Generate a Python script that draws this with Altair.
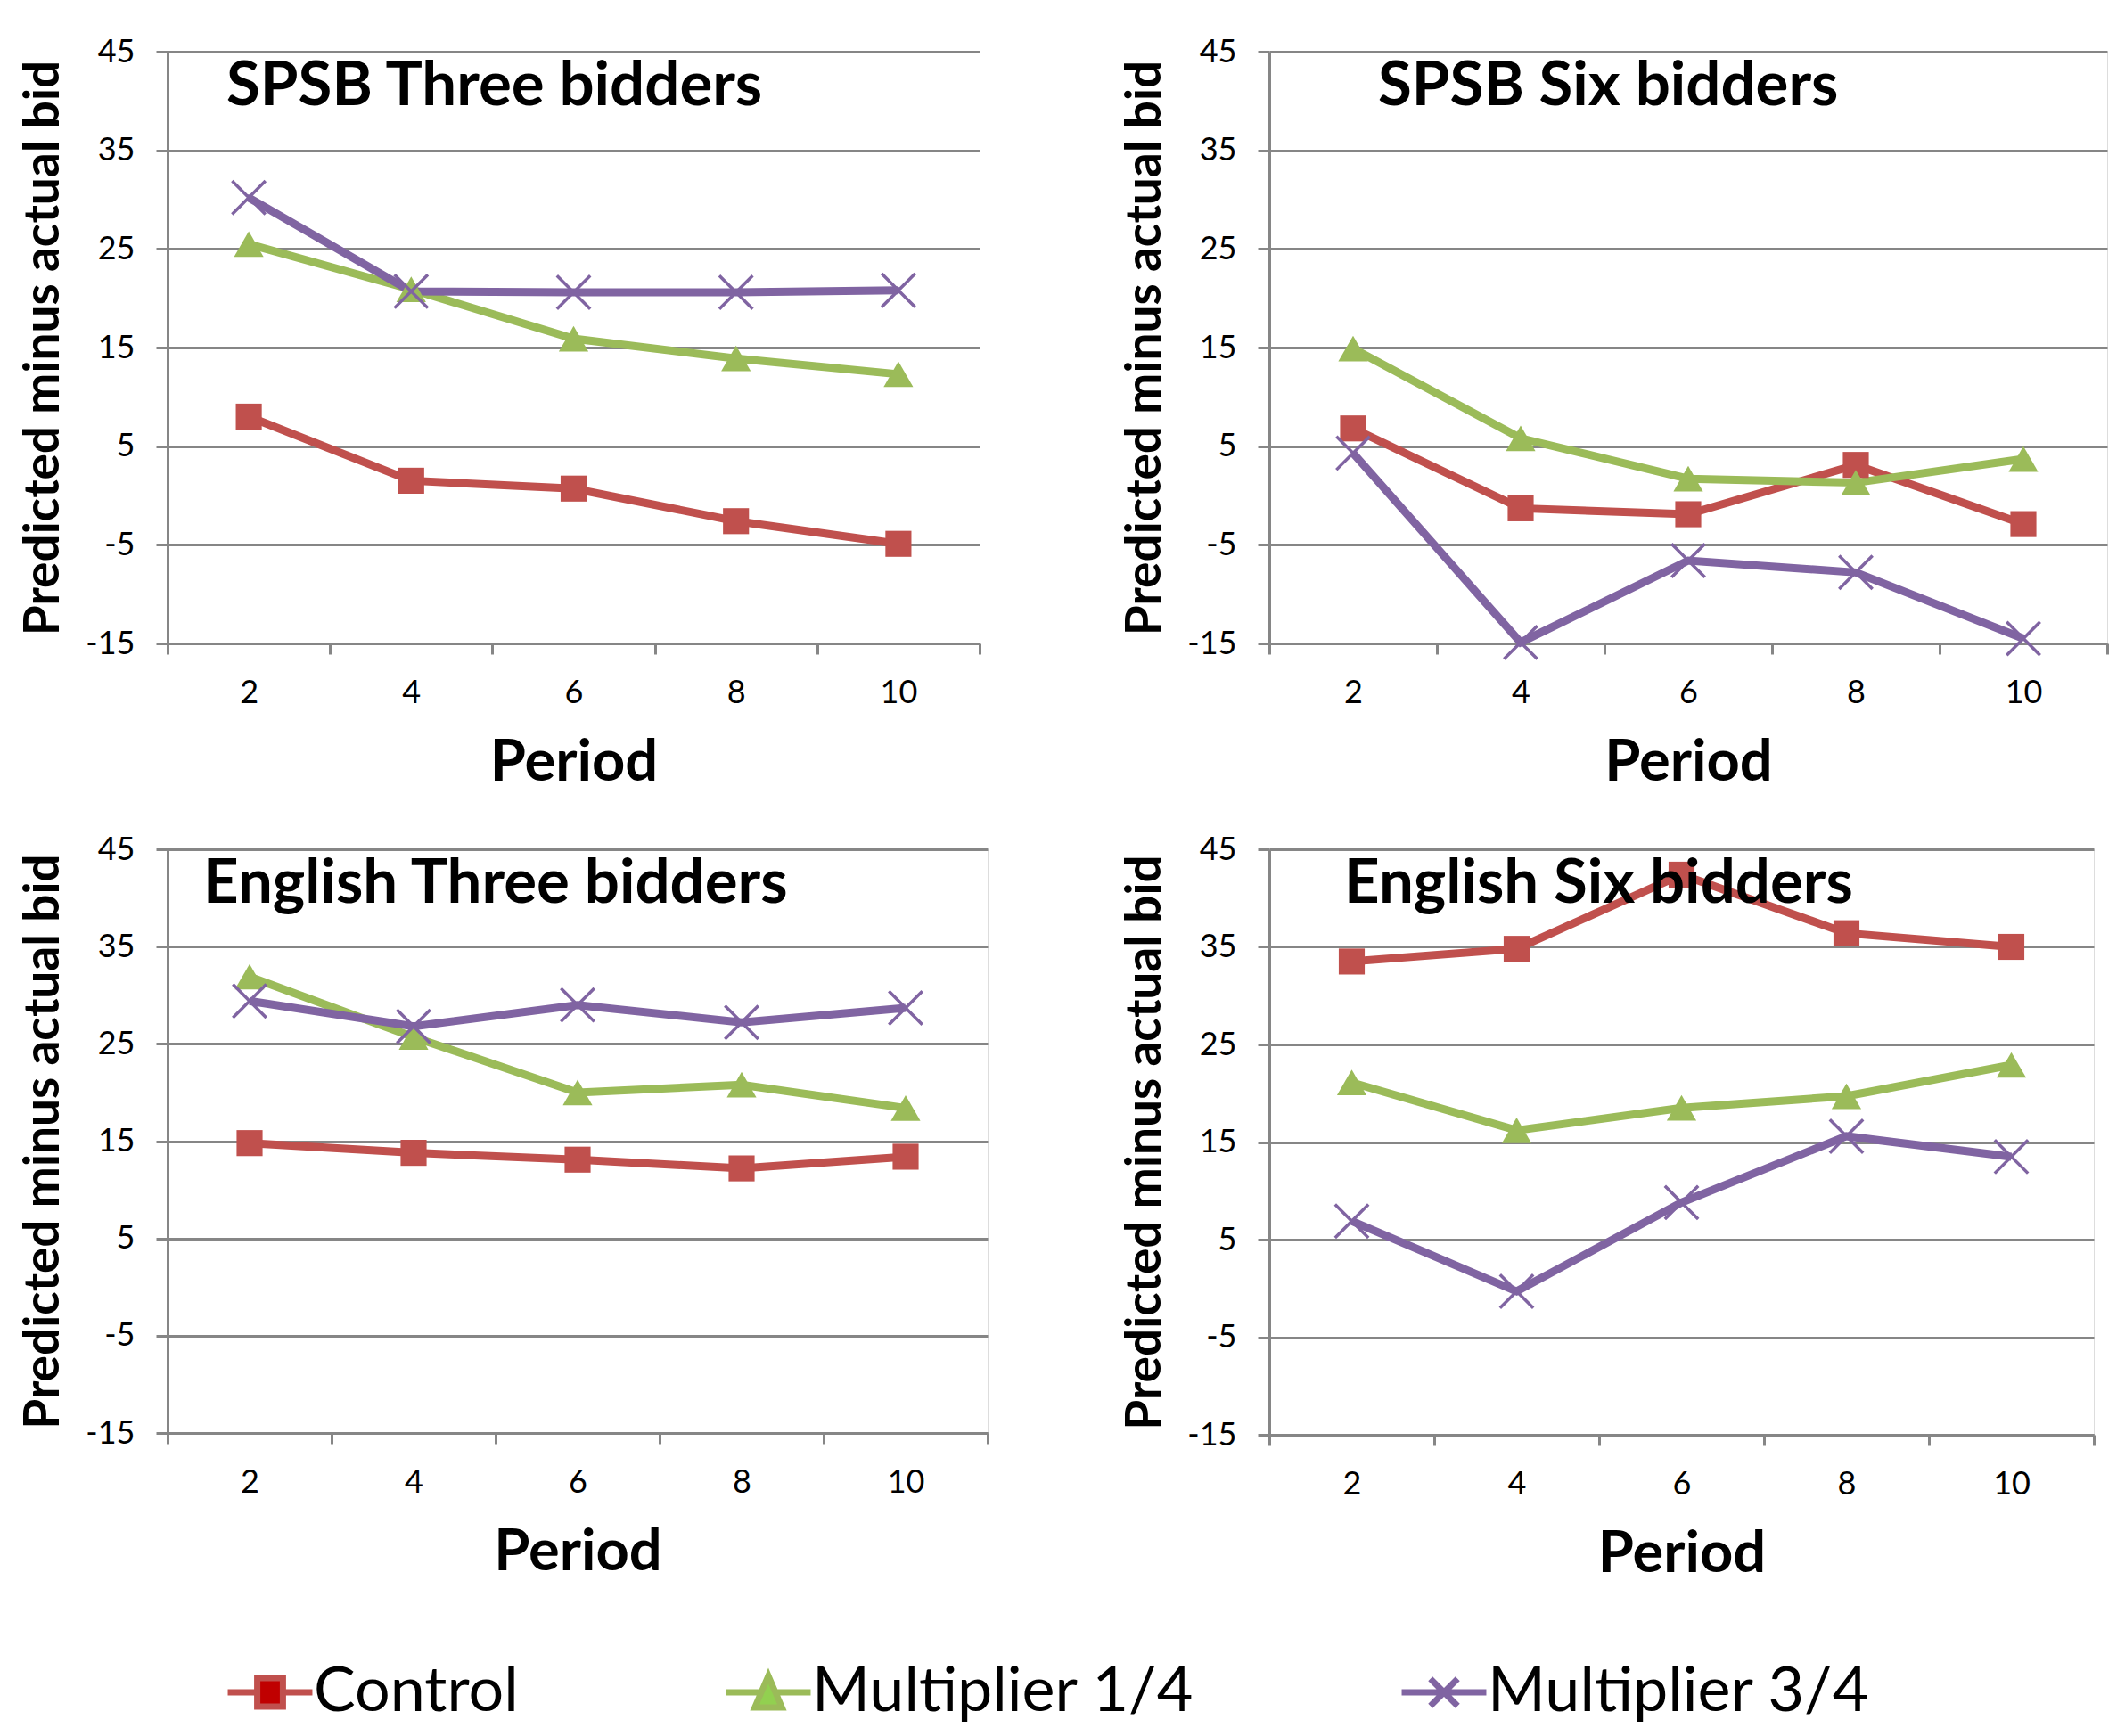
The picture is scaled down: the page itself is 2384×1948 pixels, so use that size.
import altair as alt
import pandas as pd

periods = [2, 4, 6, 8, 10]
series = ["Control", "Multiplier 1/4", "Multiplier 3/4"]
panels = ["SPSB Three bidders", "SPSB Six bidders", "English Three bidders", "English Six bidders"]

spsb3_control = [8.0, 1.5, 0.7, -2.6, -4.9]
spsb3_m14 = [25.5, 20.9, 15.9, 13.9, 12.3]
spsb3_m34 = [30.2, 20.7, 20.6, 20.6, 20.8]

spsb6_control = [6.8, -1.3, -1.9, 3.1, -2.9]
spsb6_m14 = [14.9, 5.8, 1.7, 1.3, 3.7]
spsb6_m34 = [4.3, -14.9, -6.6, -7.8, -14.5]

eng3_control = [14.8, 13.8, 13.1, 12.2, 13.4]
eng3_m14 = [31.9, 25.7, 20.0, 20.8, 18.4]
eng3_m34 = [29.4, 26.8, 29.0, 27.2, 28.7]

eng6_control = [33.5, 34.8, 42.4, 36.4, 35.0]
eng6_m14 = [21.1, 16.2, 18.5, 19.7, 22.9]
eng6_m34 = [6.9, -0.3, 8.8, 15.6, 13.5]

y_ticks = [-15, -5, 5, 15, 25, 35, 45]

line_colors = ["#C0504D", "#9BBB59", "#8064A2"]
legend_fill = ["#C00000", "#92D050", "#8064A2"]
legend_stroke = ["#C0504D", "#9BBB59", "#8064A2"]
legend_paths = [
    "M-2.8,0H-0.85M0.85,0H2.8M-0.85,-0.95H0.85V0.95H-0.85Z",
    "M-2.8,0H-0.5M0.5,0H2.8M0,-1.1L0.9,1.0H-0.9Z",
    "M-2.8,0H2.8M-0.9,-0.9L0.9,0.9M-0.9,0.9L0.9,-0.9",
]
cross_path = "M-1,-1L1,1M-1,1L1,-1"

table = {
    panels[0]: [spsb3_control, spsb3_m14, spsb3_m34],
    panels[1]: [spsb6_control, spsb6_m14, spsb6_m34],
    panels[2]: [eng3_control, eng3_m14, eng3_m34],
    panels[3]: [eng6_control, eng6_m14, eng6_m34],
}
rows = []
for p, vals in table.items():
    for s, v in zip(series, vals):
        for per, val in zip(periods, v):
            rows.append({"panel": p, "series": s, "period": per, "value": val})
df = pd.DataFrame(rows)

GREY = "#868686"
FONT = "Lato"


def panel(name, w, h, tdx, with_legend=False):
    base = alt.Chart(df).transform_filter(alt.datum.panel == name)
    x = alt.X(
        "period:O",
        sort=periods,
        bandPosition=0.5,
        scale=alt.Scale(type="band", paddingInner=0, paddingOuter=0),
        axis=alt.Axis(
            title="Period", labelAngle=0, tickBand="extent", grid=False,
            domainColor=GREY, domainWidth=3, tickColor=GREY, tickWidth=3, tickSize=12,
            labelFont=FONT, labelFontSize=36, labelColor="black", labelPadding=54,
            labelBaseline="alphabetic",
            titleFont=FONT, titleFontSize=65, titleFontWeight="bold", titleColor="black",
            titleBaseline="alphabetic", titleY=153,
        ),
    )
    y = alt.Y(
        "value:Q",
        scale=alt.Scale(domain=[-15, 45], nice=False, zero=False),
        axis=alt.Axis(
            values=y_ticks, labelExpr="'' + datum.value",
            title="Predicted minus actual bid", grid=True,
            gridColor=GREY, gridWidth=3, domainColor=GREY, domainWidth=3,
            tickColor=GREY, tickWidth=3, tickSize=13,
            labelFont=FONT, labelFontSize=36, labelColor="black", labelPadding=24,
            titleFont=FONT, titleFontSize=55, titleFontWeight="bold", titleColor="black",
            titleX=-140, titleBaseline="middle", titleAngle=270,
        ),
    )
    layers = []
    if with_legend:
        leg = alt.Legend(
            title=None, orient="none", legendX=80, legendY=1806, direction="horizontal",
            columns=3, columnPadding=218, symbolSize=1150, symbolStrokeWidth=7,
            labelFont=FONT, labelFontSize=70, labelColor="black", labelOffset=14,
            labelLimit=1000, padding=0,
        )
        lg = base.mark_point(size=1, strokeWidth=7, opacity=1).encode(
            x=x, y=y,
            fill=alt.Fill("series:N", scale=alt.Scale(domain=series, range=legend_fill), legend=leg),
            stroke=alt.Stroke("series:N", scale=alt.Scale(domain=series, range=legend_stroke), legend=leg),
            shape=alt.Shape("series:N", scale=alt.Scale(domain=series, range=legend_paths), legend=leg),
        )
        layers.append(lg)
    line = base.mark_line(strokeWidth=9).encode(
        x=x, y=y,
        color=alt.Color("series:N", scale=alt.Scale(domain=series, range=line_colors), legend=None),
    )
    sq = base.transform_filter(alt.datum.series == series[0]).mark_point(
        shape="square", filled=True, size=850, color=line_colors[0], opacity=1
    ).encode(x=x, y=y)
    tri = base.transform_filter(alt.datum.series == series[1]).mark_point(
        shape="triangle-up", filled=True, size=1100, color=line_colors[1], opacity=1
    ).encode(x=x, y=y)
    crs = base.transform_filter(alt.datum.series == series[2]).mark_point(
        shape=cross_path, filled=False, size=1400, strokeWidth=3.5, color=line_colors[2], opacity=1
    ).encode(x=x, y=y)
    title = alt.Chart(pd.DataFrame({"t": [name]})).mark_text(
        align="left", baseline="alphabetic", font=FONT, fontSize=69, fontWeight="bold", color="black"
    ).encode(text="t:N", x=alt.value(tdx), y=alt.value(60))
    layers += [line, sq, tri, crs, title]
    return alt.layer(*layers).properties(width=w, height=h)


tl = panel(panels[0], 911, 664, 66, with_legend=True)
tr = panel(panels[1], 940, 664, 122)
bl = panel(panels[2], 920, 655, 40)
br = panel(panels[3], 925, 657, 84)

chart = alt.concat(tl, tr, bl, br, columns=2, spacing={"row": 231, "column": 316}).properties(
    padding={"left": 12, "top": 31, "right": 5, "bottom": 5},
    bounds="flush",
).configure_view(strokeWidth=0).configure(background="white")

chart.save("out.html", embed_options={"renderer": "svg", "actions": False})
